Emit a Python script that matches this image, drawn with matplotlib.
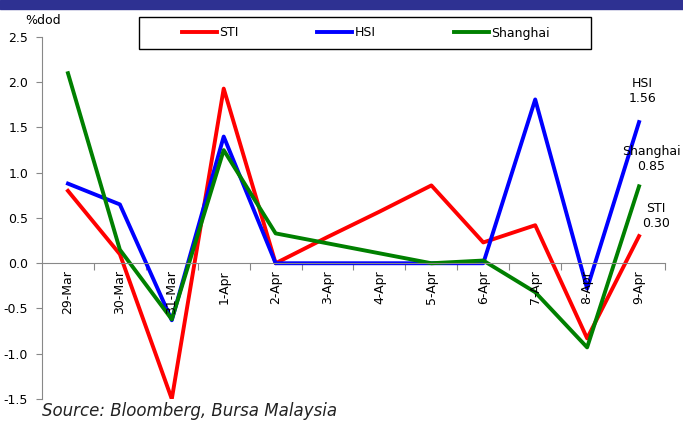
import matplotlib
matplotlib.use("Agg")
import matplotlib.pyplot as plt
import numpy as np
from matplotlib.patches import Rectangle

categories = ["29-Mar", "30-Mar", "31-Mar", "1-Apr", "2-Apr", "3-Apr", "4-Apr",
              "5-Apr", "6-Apr", "7-Apr", "8-Apr", "9-Apr"]
sti = [0.80, 0.10, -1.50, 1.93, 0.00, 0.29, 0.57, 0.86, 0.23, 0.42, -0.83, 0.30]
hsi = [0.88, 0.65, -0.63, 1.40, 0.00, 0.00, 0.00, 0.00, 0.00, 1.81, -0.28, 1.56]
shanghai = [2.10, 0.15, -0.62, 1.25, 0.33, 0.22, 0.11, 0.00, 0.03, -0.32, -0.93, 0.85]
yticks = [-1.5, -1.0, -0.5, 0.0, 0.5, 1.0, 1.5, 2.0, 2.5]

fig = plt.figure(figsize=(6.83, 4.28), dpi=100)
fig.patches.append(Rectangle((0, 1 - 9/428), 1, 9/428, transform=fig.transFigure,
                             color="#2E3192", zorder=0))
ax = fig.add_axes([42/683, 1 - 399/428, (665-42)/683, (399-37)/428])
x = np.arange(len(categories))
l1, = ax.plot(x, sti, color="#FF0000", lw=2.8, label="STI")
l2, = ax.plot(x, hsi, color="#0000FF", lw=2.8, label="HSI")
l3, = ax.plot(x, shanghai, color="#008000", lw=2.8, label="Shanghai")
ax.set_xlim(-0.5, 11.5)
ax.set_ylim(-1.5, 2.5)
ax.set_yticks(yticks)
ax.set_yticklabels([f"{v:.1f}" for v in yticks], fontsize=9)
for s in ["top", "right"]:
    ax.spines[s].set_visible(False)
ax.spines["left"].set_color("#888888")
ax.spines["bottom"].set_color("#888888")
ax.spines["bottom"].set_position(("data", 0))
ax.set_xticks(np.arange(len(categories)) + 0.5)
ax.set_xticklabels([])
ax.tick_params(axis="x", direction="out", length=5, color="#888888")
ax.tick_params(axis="y", direction="out", length=4, color="#888888", pad=6)
for i, c in enumerate(categories):
    ax.text(i, -0.08, c, rotation=90, ha="center", va="top", fontsize=9)

ax.text(11.06, 1.9, "HSI\n1.56", ha="center", va="center", fontsize=9, linespacing=1.2)
ax.text(11.24, 1.15, "Shanghai\n0.85", ha="center", va="center", fontsize=9, linespacing=1.2)
ax.text(11.33, 0.52, "STI\n0.30", ha="center", va="center", fontsize=9, linespacing=1.2)

fig.text(25/683, 1 - 20/428, "%dod", fontsize=9, va="center", ha="left")
fig.text(42/683, 1 - 411/428, "Source: Bloomberg, Bursa Malaysia", fontsize=12,
         style="italic", color="#222222", va="center", ha="left")

fig.patches.append(Rectangle((139/683, 1 - 49/428), (591-139)/683, 32/428,
                             transform=fig.transFigure, fill=False,
                             edgecolor="black", lw=1.0, zorder=5))
leg = fig.legend(handles=[l1, l2, l3], loc="center",
                 bbox_to_anchor=(366/683, 1 - 33/428),
                 ncol=3, fontsize=9, frameon=False,
                 handlelength=2.8, handletextpad=0.15, columnspacing=6.3,
                 borderaxespad=0, borderpad=0)
fig.savefig("out.png", dpi=100)
